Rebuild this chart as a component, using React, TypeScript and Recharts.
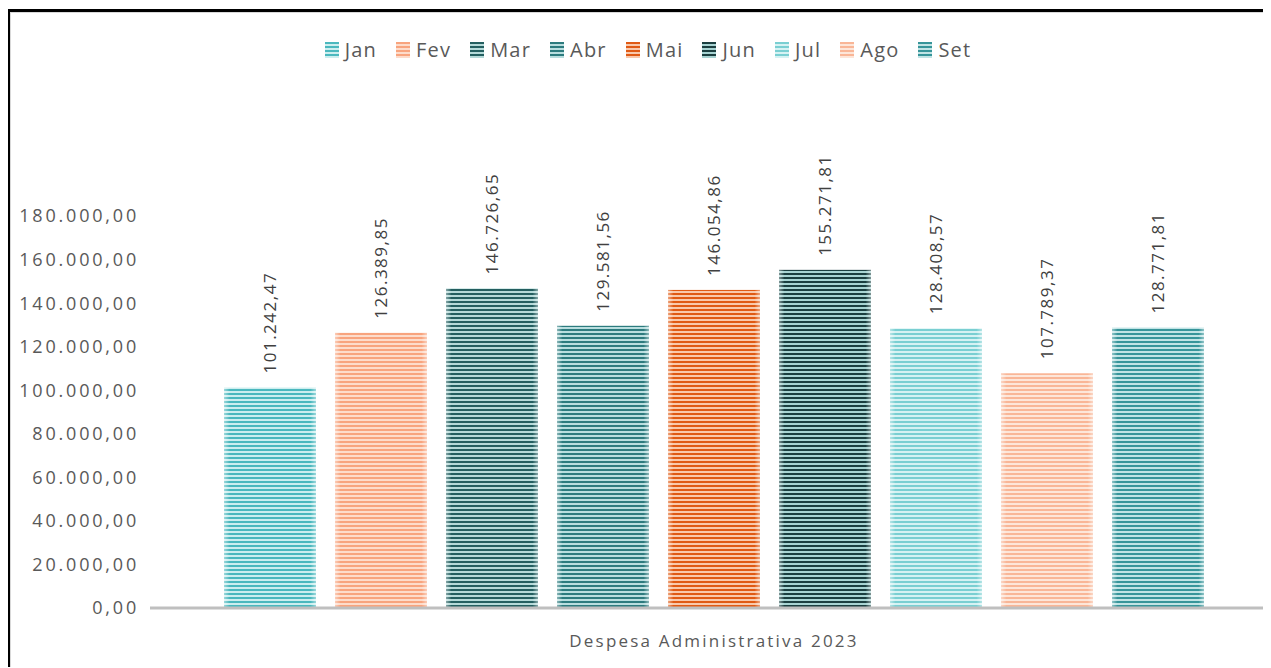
import React from 'react';
import { BarChart, Bar, XAxis, YAxis, Legend, LabelList } from 'recharts';

const categories = ['Despesa Administrativa 2023'];
const months = ['Jan', 'Fev', 'Mar', 'Abr', 'Mai', 'Jun', 'Jul', 'Ago', 'Set'];
const values = [101242.47, 126389.85, 146726.65, 129581.56, 146054.86, 155271.81, 128408.57, 107789.37, 128771.81];
const darkColors = ['#4BB8BE', '#F8A47E', '#245F60', '#2D7B7E', '#E05A14', '#1B3F40', '#7ACFD2', '#F9B697', '#37959A'];
const lightColors = ['#CDEEEF', '#FDDCCB', '#B5DAD9', '#B9DEDF', '#F9C9AC', '#A8D4D3', '#D6F2F3', '#FDE6D9', '#C1E4E5'];
const yTicks = [0, 20000, 40000, 60000, 80000, 100000, 120000, 140000, 160000, 180000];

const data = categories.map((name) => {
  const row: Record<string, string | number> = { name };
  months.forEach((m, i) => { row[m] = values[i]; });
  return row;
});

const FONT = "'Open Sans', sans-serif";

function fmt(v: number): string {
  const [i, d] = Number(v).toFixed(2).split('.');
  return i.replace(/\B(?=(\d{3})+(?!\d))/g, '.') + ',' + d;
}

const StripedBar = (props: any) => {
  const { x, y, width, height, fill } = props;
  if (!width || !height) return null;
  return (
    <g>
      <rect x={x} y={y} width={width} height={height} fill={fill} />
      <rect x={x} y={y} width={width} height={height} fill="url(#edgeGlow)" />
    </g>
  );
};

const RotLabel = (props: any) => {
  const { x, y, width, value } = props;
  const cx = x + width / 2;
  const ty = y - 14;
  return (
    <text
      x={cx}
      y={ty}
      transform={`rotate(-90 ${cx} ${ty})`}
      textAnchor="start"
      dominantBaseline="central"
      fill="#404040"
      fontSize={17}
      fontFamily={FONT}
      letterSpacing={1.5}
    >
      {fmt(value)}
    </text>
  );
};

const LegendContent = (props: any) => {
  const payload = [...(props.payload || [])].sort(
    (a: any, b: any) => months.indexOf(String(a.value)) - months.indexOf(String(b.value))
  );
  return (
    <div style={{ display: 'flex', justifyContent: 'center', alignItems: 'center', width: '100%', fontFamily: FONT }}>
      {payload.map((entry: any, i: number) => (
        <div key={i} style={{ display: 'flex', alignItems: 'center', marginRight: i === payload.length - 1 ? 0 : 19 }}>
          <svg width={14} height={16} style={{ marginRight: 6 }}>
            <rect x={0} y={0} width={14} height={16} fill={entry.color} />
          </svg>
          <span style={{ fontSize: 20, color: '#595959', letterSpacing: 1.2 }}>{entry.value}</span>
        </div>
      ))}
    </div>
  );
};

export default function App() {
  return (
    <div>
      <style>{`body{overflow:hidden}`}</style>
      <div
        style={{
          position: 'relative',
          top: 1,
          left: -1,
          width: 1300,
          height: 659,
          borderTop: '3px solid #000',
          borderLeft: '3px solid #000',
          boxSizing: 'border-box',
          overflow: 'hidden',
          background: '#fff',
        }}
      >
        <div style={{ borderTop: '1px solid #D9D9D9', borderLeft: '1px solid #D9D9D9', height: '100%', boxSizing: 'border-box' }}>
          <BarChart
            width={1290}
            height={660}
            data={data}
            margin={{ top: 203, right: 23, bottom: 25, left: 0 }}
            barSize={92}
            barGap={19}
          >
            <defs>
              {months.map((m, i) => (
                <pattern key={m} id={`stripe${i}`} patternUnits="userSpaceOnUse" width={8} height={4}>
                  <rect x={0} y={0} width={8} height={4} fill={lightColors[i]} />
                  <rect x={0} y={0} width={8} height={2} fill={darkColors[i]} />
                </pattern>
              ))}
              <linearGradient id="edgeGlow" x1="0" y1="0" x2="1" y2="0">
                <stop offset="0" stopColor="#fff" stopOpacity={0.45} />
                <stop offset="0.06" stopColor="#fff" stopOpacity={0} />
                <stop offset="0.94" stopColor="#fff" stopOpacity={0} />
                <stop offset="1" stopColor="#fff" stopOpacity={0.45} />
              </linearGradient>
            </defs>
            <XAxis
              dataKey="name"
              type="category"
              axisLine={{ stroke: '#BFBFBF', strokeWidth: 3 }}
              tickLine={false}
              tickSize={0}
              tickMargin={27}
              height={40}
              tick={{ fill: '#595959', fontSize: 17, fontFamily: FONT, letterSpacing: 2.2 }}
            />
            <YAxis
              domain={[0, 180000]}
              ticks={yTicks}
              tickFormatter={fmt}
              axisLine={false}
              tickLine={false}
              tickSize={0}
              tickMargin={11}
              width={139}
              interval={0}
              tick={{ fill: '#595959', fontSize: 18, fontFamily: FONT, letterSpacing: 2.8 }}
            />
            <Legend
              verticalAlign="middle"
              align="center"
              layout="horizontal"
              wrapperStyle={{ top: 23, left: 0, width: 1274, height: 26 }}
              content={<LegendContent />}
            />
            {months.map((m, i) => (
              <Bar
                key={m}
                dataKey={m}
                name={m}
                fill={`url(#stripe${i})`}
                shape={<StripedBar />}
                isAnimationActive={false}
              >
                <LabelList dataKey={m} content={<RotLabel />} />
              </Bar>
            ))}
          </BarChart>
        </div>
      </div>
    </div>
  );
}
